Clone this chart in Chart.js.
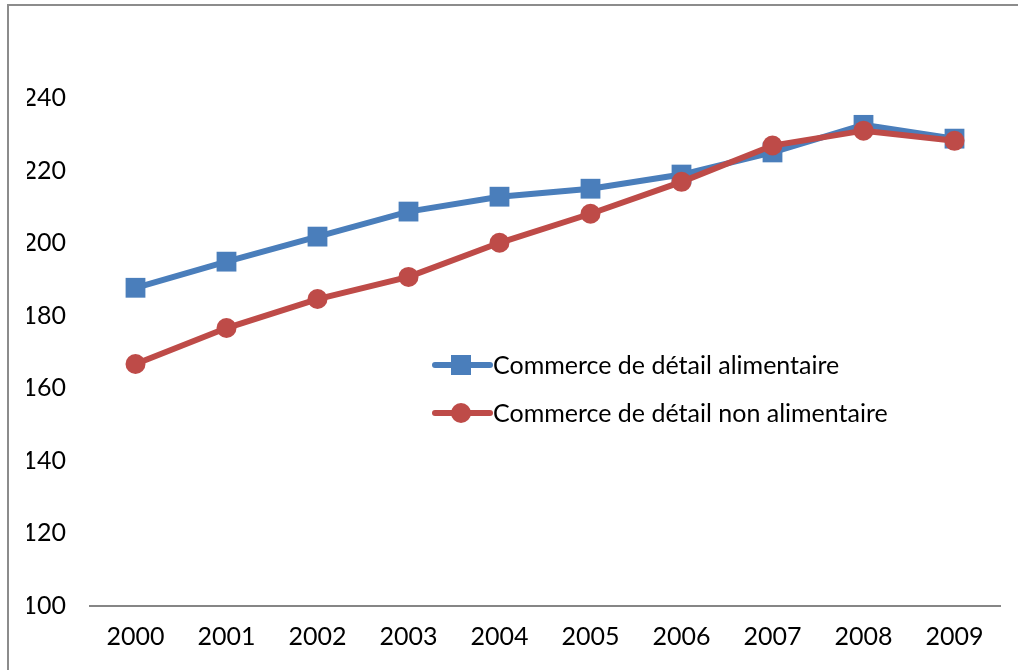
<!DOCTYPE html>
<html>
<head>
<meta charset="utf-8">
<script src="https://cdn.jsdelivr.net/npm/chart.js@4"></script>
<style>
html,body{margin:0;padding:0;background:#fff;overflow:hidden;}
#wrap{position:relative;width:1018px;height:670px;}
#frame{position:absolute;left:7px;top:4px;width:1100px;height:800px;border:2px solid #8c8c8c;box-sizing:border-box;}
canvas{position:absolute;left:0;top:0;}
</style>
</head>
<body>
<div id="wrap">
<div id="frame"></div>
<canvas id="c" width="1018" height="670"></canvas>
</div>
<script>
const categories = ["2000","2001","2002","2003","2004","2005","2006","2007","2008","2009"];
const seriesNames = ["Commerce de détail alimentaire","Commerce de détail non alimentaire"];
const alimentaire = [187.7, 194.9, 201.8, 208.7, 212.8, 215.0, 218.9, 225.0, 232.6, 228.8];
const nonAlimentaire = [166.7, 176.6, 184.6, 190.7, 200.1, 208.1, 216.9, 226.9, 231.0, 228.2];
const yTicks = [100,120,140,160,180,200,220,240];

const FONT = "Lato, 'Open Sans', sans-serif";

const legendPlugin = {
  id: 'customLegend',
  afterDatasetsDraw(chart) {
    const ctx = chart.ctx;
    const items = [
      {ds: chart.data.datasets[0], y: 365},
      {ds: chart.data.datasets[1], y: 413}
    ];
    ctx.save();
    items.forEach(it => {
      const x0 = 435, x1 = 490, xm = 461;
      ctx.strokeStyle = it.ds.borderColor;
      ctx.lineWidth = 6;
      ctx.lineCap = 'round';
      ctx.beginPath(); ctx.moveTo(x0, it.y); ctx.lineTo(x1, it.y); ctx.stroke();
      ctx.fillStyle = it.ds.pointBackgroundColor;
      if (it.ds.pointStyle === 'rect') {
        ctx.fillRect(xm - 10, it.y - 10, 20, 20);
      } else {
        ctx.beginPath(); ctx.arc(xm, it.y, 10, 0, Math.PI * 2); ctx.fill();
      }
      ctx.fillStyle = '#000';
      ctx.font = "25px " + FONT;
      ctx.textBaseline = 'middle';
      ctx.textAlign = 'left';
      ctx.fillText(it.ds.label, 493, it.y + 1);
    });
    ctx.restore();
  }
};

new Chart(document.getElementById('c'), {
  type: 'line',
  data: {
    labels: categories,
    datasets: [
      {
        label: seriesNames[0],
        data: alimentaire,
        borderColor: '#4A7EBB',
        backgroundColor: '#4A7EBB',
        pointBackgroundColor: '#4A7EBB',
        pointBorderColor: '#4A7EBB',
        pointStyle: 'rect',
        pointRadius: 14,
        pointBorderWidth: 0,
        borderWidth: 6,
        tension: 0,
        order: 2
      },
      {
        label: seriesNames[1],
        data: nonAlimentaire,
        borderColor: '#BE4B48',
        backgroundColor: '#BE4B48',
        pointBackgroundColor: '#BE4B48',
        pointBorderColor: '#BE4B48',
        pointStyle: 'circle',
        pointRadius: 10,
        pointBorderWidth: 0,
        borderWidth: 6,
        tension: 0,
        order: 1
      }
    ]
  },
  options: {
    responsive: false,
    animation: false,
    devicePixelRatio: 1,
    layout: { padding: { left: 27, right: 18, top: 98, bottom: 0 } },
    plugins: { legend: { display: false }, tooltip: { enabled: false } },
    scales: {
      x: {
        offset: true,
        afterFit(axis) { axis.height = 64; },
        grid: { display: false, drawTicks: false },
        border: { display: true, color: '#868686', width: 2 },
        ticks: { color: '#000', font: { family: FONT, size: 25 }, padding: 16, maxRotation: 0 }
      },
      y: {
        min: yTicks[0],
        max: yTicks[yTicks.length - 1],
        afterBuildTicks(axis) { axis.ticks = yTicks.map(v => ({ value: v })); },
        afterFit(axis) { axis.width = 63; },
        grid: { display: false, drawTicks: false },
        border: { display: false },
        ticks: { color: '#000', font: { family: FONT, size: 25 }, padding: 24 }
      }
    }
  },
  plugins: [legendPlugin]
});
</script>
</body>
</html>
